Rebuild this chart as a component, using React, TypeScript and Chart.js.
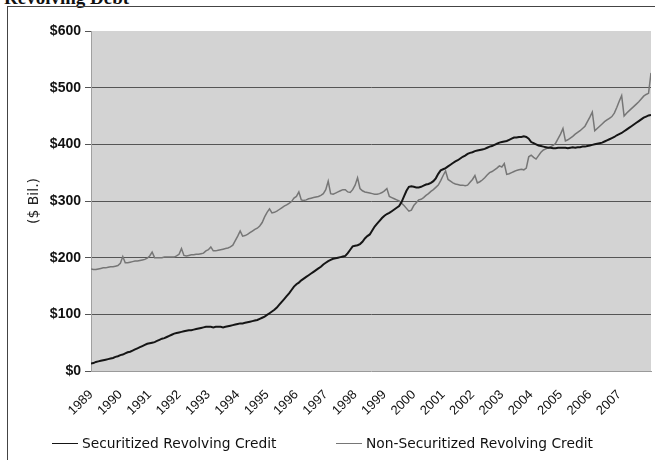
import React, { useEffect, useRef } from 'react';
import { Chart, registerables } from 'chart.js';

Chart.register(...registerables);

// ---------------- data ----------------
const START_YEAR = 1989;
const chartTitle = 'Revolving Debt';
const yAxisTitle = '($ Bil.)';
const seriesNames = ['Securitized Revolving Credit', 'Non-Securitized Revolving Credit'];
const yearLabels = [
  '1989', '1990', '1991', '1992', '1993', '1994', '1995', '1996', '1997', '1998',
  '1999', '2000', '2001', '2002', '2003', '2004', '2005', '2006', '2007',
];
const yTickValues = [0, 100, 200, 300, 400, 500, 600];

// monthly, Jan 1989 .. Feb 2008 ($ billions)
const securitized = [
  13, 14, 16, 17, 18, 19, 20, 21, 22, 23, 25, 26,
  28, 29, 31, 33, 34, 36, 38, 40, 42, 44, 46, 48,
  49, 50, 51, 53, 55, 57, 58, 60, 62, 64, 66, 67,
  68, 69, 70, 71, 72, 72, 73, 74, 75, 76, 77, 78,
  78, 78, 77, 78, 78, 78, 77, 78, 79, 80, 81, 82,
  83, 84, 84, 85, 86, 87, 88, 89, 90, 92, 94, 96,
  99, 102, 105, 108, 112, 117, 122, 127, 132, 137, 143, 149,
  153, 156, 160, 163, 166, 169, 172, 175, 178, 181, 184, 188,
  191, 194, 196, 198, 199, 200, 201, 202, 203, 208, 214, 220,
  221, 222, 224, 228, 234, 238, 241, 248, 255, 260, 265, 270,
  274, 277, 279, 282, 285, 288, 291, 298, 308, 318, 325, 326,
  325, 324, 324, 325, 327, 329, 330, 332, 335, 340, 348, 354,
  356, 358, 361, 364, 367, 370, 372, 375, 378, 380, 383, 385,
  386, 388, 389, 390, 391, 392, 394, 396, 397, 399, 401, 403,
  404, 405, 406, 408, 410, 412, 412, 413, 413, 414, 413, 410,
  404, 402, 400, 398, 397, 396, 395, 394, 394, 393, 393, 394,
  394, 394, 394, 393, 394, 395, 394, 395, 395, 396, 396, 397,
  398, 399, 400, 401, 402, 403, 405, 407, 409, 411, 413, 416,
  418, 420, 423, 426, 429, 432, 435, 438, 441, 444, 447, 449,
  451, 452,
];

const nonSecuritized = [
  180, 179, 179, 180, 181, 182, 182, 183, 184, 184, 185, 186,
  190, 202, 191, 191, 192, 193, 194, 194, 195, 196, 197, 199,
  203, 210, 200, 200, 200, 200, 201, 201, 201, 201, 201, 203,
  206, 216, 204, 203, 204, 205, 205, 206, 206, 207, 208, 212,
  214, 219, 212, 212, 213, 214, 215, 216, 217, 219, 222, 230,
  238, 247, 238, 239, 241, 244, 247, 250, 252, 256, 262, 272,
  280, 286, 279, 280, 282, 285, 288, 291, 293, 296, 299, 305,
  308, 316, 302, 301, 302, 304, 305, 306, 307, 308, 310, 313,
  320, 335, 313, 312, 314, 316, 318, 320, 320, 316, 315, 320,
  328, 341, 322, 318, 316, 315, 314, 313, 312, 312, 313, 315,
  318, 322, 308, 306, 304, 302, 300, 296, 292, 287, 282, 284,
  292, 297, 302, 303, 306, 310, 313, 317, 320, 324, 328, 336,
  345, 353, 338, 335, 332, 330, 329, 328, 328, 327, 328, 333,
  338, 345, 332, 334, 337, 341, 346, 350, 352, 355, 358, 362,
  360, 366, 347, 348, 350, 352, 354, 355, 356, 355, 358, 378,
  381, 377, 374, 380, 386, 390, 392, 394, 396, 398, 402, 410,
  418, 428, 406, 408, 411, 414, 418, 421, 424, 428, 432, 440,
  448, 457, 424, 428, 432, 436, 440, 443, 446, 449, 455, 465,
  476, 486, 450, 455, 459, 463, 467, 471, 475, 480, 485, 488,
  490, 526,
];

const seriesColors = ['#151515', '#767676'];

// ---------------- chart ----------------
const plotBackground = {
  id: 'plotBackground',
  beforeDraw(chart: any) {
    const { ctx, chartArea: a } = chart;
    ctx.save();
    ctx.fillStyle = '#d3d3d3';
    ctx.fillRect(a.left, a.top, a.right - a.left, a.bottom - a.top);
    ctx.restore();
  },
};

// legend drawn from the datasets (line swatch + label)
const LEGEND_Y = 443;
const LEGEND_ITEM_X = [52, 336];
const legendLines = {
  id: 'legendLines',
  afterDraw(chart: any) {
    const { ctx } = chart;
    ctx.save();
    ctx.font = '13.8px "DejaVu Sans"';
    ctx.textBaseline = 'middle';
    ctx.textAlign = 'left';
    chart.data.datasets.forEach((ds: any, i: number) => {
      const x = LEGEND_ITEM_X[i];
      ctx.strokeStyle = ds.borderColor;
      ctx.lineWidth = 1;
      ctx.beginPath();
      ctx.moveTo(x, LEGEND_Y + 0.5);
      ctx.lineTo(x + 26, LEGEND_Y + 0.5);
      ctx.stroke();
      ctx.fillStyle = '#111';
      ctx.fillText(ds.label, x + 30, LEGEND_Y + 1);
    });
    ctx.restore();
  },
};

const toPoints = (arr: number[]) => arr.map((v, i) => ({ x: START_YEAR + i / 12, y: v }));

export default function App() {
  const canvasRef = useRef<HTMLCanvasElement | null>(null);

  useEffect(() => {
    if (!canvasRef.current) return;
    const lastX = START_YEAR + (securitized.length - 1) / 12;
    const chart = new Chart(canvasRef.current, {
      type: 'line',
      data: {
        datasets: [
          {
            label: seriesNames[0],
            data: toPoints(securitized),
            borderColor: seriesColors[0],
            backgroundColor: seriesColors[0],
            borderWidth: 2,
            pointRadius: 0,
            tension: 0,
          },
          {
            label: seriesNames[1],
            data: toPoints(nonSecuritized),
            borderColor: seriesColors[1],
            backgroundColor: seriesColors[1],
            borderWidth: 1.5,
            pointRadius: 0,
            tension: 0,
          },
        ],
      },
      options: {
        animation: false,
        responsive: false,
        devicePixelRatio: 1,
        layout: { padding: { top: 31, right: 4, left: 0, bottom: 0 } },
        plugins: {
          tooltip: { enabled: false },
          legend: { display: false },
        },
        scales: {
          x: {
            type: 'linear',
            min: START_YEAR,
            max: lastX,
            grid: { display: false, drawTicks: false },
            border: { display: true, color: '#9a9a9a', width: 1 },
            afterBuildTicks: (scale: any) => {
              scale.ticks = yearLabels.map((_, i) => ({ value: START_YEAR + i }));
            },
            afterFit: (scale: any) => {
              scale.height = 89;
            },
            ticks: {
              autoSkip: false,
              minRotation: 45,
              maxRotation: 45,
              padding: 16,
              color: '#111',
              font: { family: 'Liberation Sans', size: 13 },
              callback: (v: any) => yearLabels[Math.round(Number(v)) - START_YEAR] ?? '',
            },
          },
          y: {
            min: 0,
            max: 600,
            afterBuildTicks: (scale: any) => {
              scale.ticks = yTickValues.map((v) => ({ value: v }));
            },
            afterFit: (scale: any) => {
              scale.width = 91;
            },
            grid: {
              color: (ctx: any) =>
                ctx.tick && (ctx.tick.value === 0 || ctx.tick.value === 600) ? 'rgba(0,0,0,0)' : '#555555',
              tickColor: '#555555',
              tickLength: 6,
              lineWidth: 1,
            },
            border: { display: true, color: '#a0a0a0', width: 1 },
            ticks: {
              padding: 4,
              color: '#111',
              font: { family: 'Liberation Sans', size: 14, weight: 'bold' },
              callback: (v: any) => '$' + v,
            },
            title: {
              display: true,
              text: yAxisTitle,
              color: '#222',
              font: { family: 'DejaVu Sans', size: 14 },
              padding: { top: 26, bottom: 0 },
            },
          },
        },
      },
      plugins: [plotBackground, legendLines],
    } as any);
    return () => chart.destroy();
  }, []);

  return (
    <div
      style={{
        position: 'absolute',
        left: 0,
        top: 0,
        width: 655,
        height: 460,
        overflow: 'hidden',
        background: '#ffffff',
      }}
    >
      <div
        style={{
          position: 'absolute',
          left: 4,
          top: -12,
          font: 'bold 19px "Liberation Serif"',
          lineHeight: '19px',
          color: '#111',
          whiteSpace: 'nowrap',
        }}
      >
        {chartTitle}
      </div>
      <div
        style={{
          position: 'absolute',
          left: 7,
          top: 6,
          width: 700,
          height: 500,
          borderLeft: '1px solid #444',
          borderTop: '1px solid #444',
        }}
      />
      <canvas
        ref={canvasRef}
        width={655}
        height={460}
        style={{ position: 'absolute', left: 0, top: 0, width: 655, height: 460, display: 'block' }}
      />
    </div>
  );
}
